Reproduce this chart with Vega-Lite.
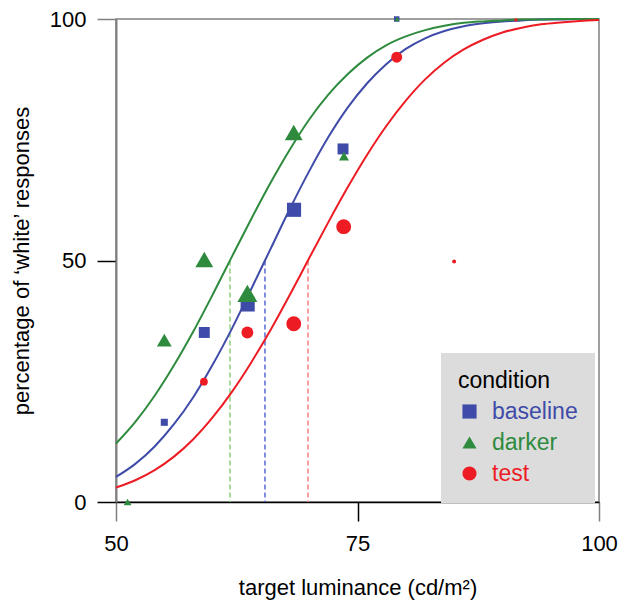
{
  "$schema": "https://vega.github.io/schema/vega-lite/v6.json",
  "width": 483,
  "height": 483,
  "autosize": {"type": "none"},
  "padding": {"left": 116, "top": 19, "right": 30, "bottom": 98},
  "background": "white",
  "config": {
    "font": "Liberation Sans",
    "view": {"stroke": "#808080", "strokeWidth": 1.5},
    "axis": {
      "grid": false,
      "labelFont": "Liberation Sans",
      "labelFontSize": 22,
      "labelColor": "black",
      "labelFlush": false,
      "titleFont": "Liberation Sans",
      "titleFontSize": 22,
      "titleFontWeight": "normal",
      "titleColor": "black",
      "tickSize": 19,
      "tickWidth": 1.5
    },
    "legend": {
      "titleFont": "Liberation Sans",
      "labelFont": "Liberation Sans",
      "titleFontSize": 23,
      "labelFontSize": 23,
      "titleFontWeight": "normal",
      "titleColor": "black"
    }
  },
  "datasets": {
    "points": [
      {"condition": "baseline", "luminance": 55.0, "pct": 16.5, "trials": 5},
      {"condition": "baseline", "luminance": 59.14, "pct": 35.1, "trials": 12},
      {"condition": "baseline", "luminance": 63.63, "pct": 40.9, "trials": 20},
      {"condition": "baseline", "luminance": 68.43, "pct": 60.5, "trials": 20},
      {"condition": "baseline", "luminance": 73.5, "pct": 73.1, "trials": 12},
      {"condition": "baseline", "luminance": 79.06, "pct": 100, "trials": 3},
      {"condition": "darker", "luminance": 51.2, "pct": 0, "trials": 6},
      {"condition": "darker", "luminance": 55.0, "pct": 33.5, "trials": 22},
      {"condition": "darker", "luminance": 59.14, "pct": 50.2, "trials": 32},
      {"condition": "darker", "luminance": 63.6, "pct": 43.2, "trials": 40},
      {"condition": "darker", "luminance": 68.4, "pct": 76.5, "trials": 32},
      {"condition": "darker", "luminance": 73.6, "pct": 71.6, "trials": 10},
      {"condition": "darker", "luminance": 79.1, "pct": 100, "trials": 2.5},
      {"condition": "test", "luminance": 59.1, "pct": 24.9, "trials": 6},
      {"condition": "test", "luminance": 63.6, "pct": 35.1, "trials": 14},
      {"condition": "test", "luminance": 68.4, "pct": 36.9, "trials": 22},
      {"condition": "test", "luminance": 73.57, "pct": 57.0, "trials": 22},
      {"condition": "test", "luminance": 79.06, "pct": 92.1, "trials": 12},
      {"condition": "test", "luminance": 85.0, "pct": 49.8, "trials": 1.6},
      {"condition": "test", "luminance": 91.4, "pct": 99.8, "trials": 1.2}
    ],
    "thresholds": [
      {"condition": "darker", "threshold": 61.8, "top": 50, "bottom": 0},
      {"condition": "baseline", "threshold": 65.42, "top": 50, "bottom": 0},
      {"condition": "test", "threshold": 69.88, "top": 50, "bottom": 0}
    ],
    "curves": [
      {"condition": "baseline", "luminance": 50, "pct": 5.2},
      {"condition": "baseline", "luminance": 52, "pct": 7.9},
      {"condition": "baseline", "luminance": 54, "pct": 11.5},
      {"condition": "baseline", "luminance": 56, "pct": 16.1},
      {"condition": "baseline", "luminance": 58, "pct": 21.7},
      {"condition": "baseline", "luminance": 60, "pct": 28.4},
      {"condition": "baseline", "luminance": 62, "pct": 35.9},
      {"condition": "baseline", "luminance": 64, "pct": 44.1},
      {"condition": "baseline", "luminance": 66, "pct": 52.4},
      {"condition": "baseline", "luminance": 68, "pct": 60.7},
      {"condition": "baseline", "luminance": 70, "pct": 68.5},
      {"condition": "baseline", "luminance": 72, "pct": 75.6},
      {"condition": "baseline", "luminance": 74, "pct": 81.7},
      {"condition": "baseline", "luminance": 76, "pct": 86.7},
      {"condition": "baseline", "luminance": 78, "pct": 90.7},
      {"condition": "baseline", "luminance": 80, "pct": 93.8},
      {"condition": "baseline", "luminance": 82, "pct": 96.0},
      {"condition": "baseline", "luminance": 84, "pct": 97.5},
      {"condition": "baseline", "luminance": 86, "pct": 98.5},
      {"condition": "baseline", "luminance": 88, "pct": 99.1},
      {"condition": "baseline", "luminance": 90, "pct": 99.5},
      {"condition": "baseline", "luminance": 92, "pct": 99.7},
      {"condition": "baseline", "luminance": 94, "pct": 99.9},
      {"condition": "baseline", "luminance": 96, "pct": 99.9},
      {"condition": "baseline", "luminance": 98, "pct": 100},
      {"condition": "baseline", "luminance": 100, "pct": 100},
      {"condition": "darker", "luminance": 50, "pct": 12.1},
      {"condition": "darker", "luminance": 52, "pct": 16.6},
      {"condition": "darker", "luminance": 54, "pct": 22.0},
      {"condition": "darker", "luminance": 56, "pct": 28.3},
      {"condition": "darker", "luminance": 58, "pct": 35.3},
      {"condition": "darker", "luminance": 60, "pct": 42.9},
      {"condition": "darker", "luminance": 62, "pct": 50.8},
      {"condition": "darker", "luminance": 64, "pct": 58.6},
      {"condition": "darker", "luminance": 66, "pct": 66.1},
      {"condition": "darker", "luminance": 68, "pct": 73.0},
      {"condition": "darker", "luminance": 70, "pct": 79.2},
      {"condition": "darker", "luminance": 72, "pct": 84.4},
      {"condition": "darker", "luminance": 74, "pct": 88.6},
      {"condition": "darker", "luminance": 76, "pct": 92.0},
      {"condition": "darker", "luminance": 78, "pct": 94.6},
      {"condition": "darker", "luminance": 80, "pct": 96.4},
      {"condition": "darker", "luminance": 82, "pct": 97.7},
      {"condition": "darker", "luminance": 84, "pct": 98.6},
      {"condition": "darker", "luminance": 86, "pct": 99.2},
      {"condition": "darker", "luminance": 88, "pct": 99.5},
      {"condition": "darker", "luminance": 90, "pct": 99.7},
      {"condition": "darker", "luminance": 92, "pct": 99.9},
      {"condition": "darker", "luminance": 94, "pct": 99.9},
      {"condition": "darker", "luminance": 96, "pct": 100},
      {"condition": "darker", "luminance": 98, "pct": 100},
      {"condition": "darker", "luminance": 100, "pct": 100},
      {"condition": "test", "luminance": 50, "pct": 3.0},
      {"condition": "test", "luminance": 52, "pct": 4.5},
      {"condition": "test", "luminance": 54, "pct": 6.6},
      {"condition": "test", "luminance": 56, "pct": 9.4},
      {"condition": "test", "luminance": 58, "pct": 13.0},
      {"condition": "test", "luminance": 60, "pct": 17.5},
      {"condition": "test", "luminance": 62, "pct": 22.8},
      {"condition": "test", "luminance": 64, "pct": 28.9},
      {"condition": "test", "luminance": 66, "pct": 35.6},
      {"condition": "test", "luminance": 68, "pct": 42.9},
      {"condition": "test", "luminance": 70, "pct": 50.5},
      {"condition": "test", "luminance": 72, "pct": 58.0},
      {"condition": "test", "luminance": 74, "pct": 65.2},
      {"condition": "test", "luminance": 76, "pct": 71.9},
      {"condition": "test", "luminance": 78, "pct": 77.9},
      {"condition": "test", "luminance": 80, "pct": 83.1},
      {"condition": "test", "luminance": 82, "pct": 87.5},
      {"condition": "test", "luminance": 84, "pct": 91.0},
      {"condition": "test", "luminance": 86, "pct": 93.7},
      {"condition": "test", "luminance": 88, "pct": 95.7},
      {"condition": "test", "luminance": 90, "pct": 97.2},
      {"condition": "test", "luminance": 92, "pct": 98.2},
      {"condition": "test", "luminance": 94, "pct": 98.9},
      {"condition": "test", "luminance": 96, "pct": 99.3},
      {"condition": "test", "luminance": 98, "pct": 99.6},
      {"condition": "test", "luminance": 100, "pct": 99.8}
    ]
  },
  "encoding": {
    "x": {
      "field": "luminance", "type": "quantitative",
      "title": "target luminance (cd/m²)",
      "scale": {"domain": [50, 100], "nice": false, "zero": false},
      "axis": {
        "values": [50, 75, 100],
        "domainColor": "black",
        "domainWidth": 1.5,
        "tickColor": {"condition": {"test": "datum.value == 75", "value": "black"}, "value": "#808080"},
        "labelPadding": 12,
        "titlePadding": 23
      }
    },
    "y": {
      "field": "pct", "type": "quantitative",
      "title": "percentage of ‘white’ responses",
      "scale": {"domain": [0, 100], "nice": false},
      "axis": {
        "values": [0, 50, 100],
        "domainColor": "#808080",
        "domainWidth": 2,
        "tickColor": {"condition": {"test": "datum.value == 100", "value": "#808080"}, "value": "black"},
        "labelPadding": 11,
        "titlePadding": 16
      }
    }
  },
  "layer": [
    {
      "data": {"name": "thresholds"},
      "transform": [{"filter": "datum.condition == 'darker'"}],
      "mark": {"type": "rule", "strokeDash": [5, 3], "strokeWidth": 1.5, "color": "#8fd07e"},
      "encoding": {
        "x": {"field": "threshold", "type": "quantitative"},
        "y": {"field": "top", "type": "quantitative"},
        "y2": {"field": "bottom"}
      }
    },
    {
      "data": {"name": "thresholds"},
      "transform": [{"filter": "datum.condition == 'baseline'"}],
      "mark": {"type": "rule", "strokeDash": [5, 3], "strokeWidth": 1.5, "color": "#5a6ad6"},
      "encoding": {
        "x": {"field": "threshold", "type": "quantitative"},
        "y": {"field": "top", "type": "quantitative"},
        "y2": {"field": "bottom"}
      }
    },
    {
      "data": {"name": "thresholds"},
      "transform": [{"filter": "datum.condition == 'test'"}],
      "mark": {"type": "rule", "strokeDash": [5, 3], "strokeWidth": 1.5, "color": "#f28080"},
      "encoding": {
        "x": {"field": "threshold", "type": "quantitative"},
        "y": {"field": "top", "type": "quantitative"},
        "y2": {"field": "bottom"}
      }
    },
    {
      "data": {"name": "curves"},
      "mark": {"type": "line", "strokeWidth": 2, "interpolate": "monotone"},
      "encoding": {
        "color": {
          "field": "condition", "type": "nominal", "title": "condition",
          "scale": {"domain": ["baseline", "darker", "test"], "range": ["#3f4ba8", "#2e8b3e", "#ed1c24"]}
        }
      }
    },
    {
      "data": {"name": "points"},
      "mark": {"type": "point", "filled": true, "opacity": 1},
      "encoding": {
        "color": {
          "field": "condition", "type": "nominal", "title": "condition",
          "scale": {"domain": ["baseline", "darker", "test"], "range": ["#3f4ba8", "#2e8b3e", "#ed1c24"]},
          "legend": {
            "orient": "none",
            "legendX": 325,
            "legendY": 334,
            "fillColor": "#dcdcdc",
            "padding": 17,
            "symbolSize": 200,
            "symbolOpacity": 1,
            "symbolStrokeWidth": 0,
            "labelOffset": 11,
            "rowPadding": 7,
            "titlePadding": 7,
            "encode": {
              "labels": {"update": {"fill": {"signal": "datum.value === 'baseline' ? '#3f4ba8' : datum.value === 'darker' ? '#2e8b3e' : '#ed1c24'"}}}
            }
          }
        },
        "shape": {
          "field": "condition", "type": "nominal", "title": "condition",
          "scale": {"domain": ["baseline", "darker", "test"], "range": ["square", "triangle-up", "circle"]}
        },
        "size": {
          "field": "trials", "type": "quantitative",
          "scale": {"domain": [0, 40], "range": [0, 400], "zero": true},
          "legend": null
        }
      }
    }
  ]
}
